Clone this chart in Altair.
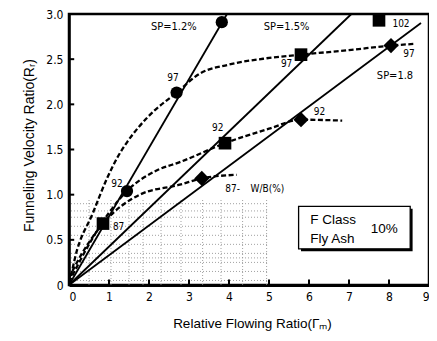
import altair as alt
import pandas as pd

# ---- Solid SP lines (from origin to end point) ----
sp_names = ["SP=1.2%", "SP=1.5%", "SP=1.8"]
sp_x_end = [3.95, 7.06, 8.8]
sp_y_end = [3.0, 3.0, 2.9]

# ---- Markers ----
circle_x = [1.45, 2.69, 3.82]
circle_y = [1.04, 2.13, 2.91]
square_x = [0.85, 3.9, 5.8, 7.75]
square_y = [0.68, 1.57, 2.55, 2.93]
diamond_x = [3.32, 5.8, 8.05]
diamond_y = [1.18, 1.83, 2.65]

# ---- Dashed W/B curves ----
w87_x = [0.0, 0.3, 0.85, 1.77, 2.77, 3.32, 4.19]
w87_y = [0.08, 0.33, 0.68, 1.0, 1.11, 1.18, 1.22]
w92_x = [0.0, 0.5, 1.0, 1.45, 2.2, 2.77, 3.9, 5.0, 5.8, 6.83]
w92_y = [0.03, 0.45, 0.8, 1.04, 1.27, 1.36, 1.57, 1.73, 1.83, 1.82]
w97_x = [0.05, 0.15, 0.6, 0.95, 1.22, 1.45, 1.97, 2.69, 3.27, 4.0, 4.94, 5.8, 7.0, 8.05, 8.65]
w97_y = [0.1, 0.3, 0.8, 1.18, 1.42, 1.58, 1.86, 2.13, 2.34, 2.44, 2.51, 2.55, 2.6, 2.65, 2.67]

# ---- Annotations ----
ann_text = ["SP=1.2%", "SP=1.5%", "SP=1.8", "102", "97", "97", "97", "92", "92", "92", "87", "87-", "W/B(%)"]
ann_x = [2.62, 5.44, 8.15, 8.3, 8.5, 5.44, 2.6, 6.26, 3.72, 1.2, 1.24, 4.09, 4.96]
ann_y = [2.86, 2.86, 2.31, 2.89, 2.56, 2.45, 2.29, 1.91, 1.74, 1.12, 0.64, 1.06, 1.06]
ann_size = [11, 11, 11, 10, 10, 10, 10, 10, 10, 10, 10, 10, 10]

# ---- Inset box ----
box_x = [5.74, 8.53]
box_y = [0.40, 0.87]
box_text_left = ["F Class", "Fly Ash"]
box_tx_left = [6.03, 6.03]
box_ty_left = [0.72, 0.51]
box_text_right = ["10%"]
box_tx_right = [7.88]
box_ty_right = [0.62]

# ---- Axis ticks ----
x_ticks = [0, 1, 2, 3, 4, 5, 6, 7, 8, 9]
y_ticks = [0, 0.5, 1.0, 1.5, 2.0, 2.5, 3.0]

# ---- Scanned grid texture (lower-left) ----
tex_h_y = [0.05, 0.15, 0.25, 0.3, 0.35, 0.45, 0.55, 0.65, 0.75, 0.82, 0.9]
tex_v_x = [0.5, 1.05, 1.5, 1.85, 2.3, 2.8, 3.34, 3.8, 4.34, 4.94]

FONT = "Liberation Sans Narrow, DejaVu Sans Condensed, Liberation Sans, sans-serif"

xs = alt.Scale(domain=[0, 9], nice=False)
ys = alt.Scale(domain=[0, 3], nice=False)

X = lambda f: alt.X(f, type="quantitative", scale=xs,
                    axis=alt.Axis(values=x_ticks, format="d", title="Relative Flowing Ratio(Γₘ)",
                                  grid=False, ticks=False, domainWidth=3, domainColor="black",
                                  labelFont=FONT, labelFontSize=12, labelColor="black", labelPadding=6,
                                  titleFont="Liberation Sans, Arial, sans-serif", titleFontSize=13.5,
                                  titleFontWeight="normal", titleColor="black",
                                  titleX=183, titleY=38, titleAlign="center", titleBaseline="middle"))
Y = lambda f: alt.Y(f, type="quantitative", scale=ys,
                    axis=alt.Axis(values=y_ticks, title="Funneling Velocity Ratio(Rᵣ)",
                                  labelExpr="datum.value == 0 ? '0' : format(datum.value, '.1f')",
                                  grid=False, ticks=False, domainWidth=2.5, domainColor="black",
                                  labelFont=FONT, labelFontSize=12, labelColor="black", labelPadding=6,
                                  titleFont="Liberation Sans, Arial, sans-serif", titleFontSize=14,
                                  titleFontWeight="normal", titleColor="black",
                                  titleX=-40, titleY=131, titleAngle=-90, titleAlign="center",
                                  titleBaseline="middle"))

# texture
tex_h = alt.Chart(pd.DataFrame({"y": tex_h_y, "x0": [0.05] * len(tex_h_y), "x1": [5.0] * len(tex_h_y)})).mark_rule(
    color="#8a8a8a", strokeWidth=1, strokeDash=[1, 2], opacity=0.8
).encode(x=X("x0"), x2="x1", y=Y("y"))
tex_v = alt.Chart(pd.DataFrame({"x": tex_v_x, "y0": [0.0] * len(tex_v_x), "y1": [0.95] * len(tex_v_x)})).mark_rule(
    color="#8a8a8a", strokeWidth=1, strokeDash=[1, 2], opacity=0.8
).encode(x=X("x"), y=Y("y0"), y2="y1")

# inward ticks
xt = alt.Chart(pd.DataFrame({"x": x_ticks[1:-1], "y0": [0.0] * 8, "y1": [0.06] * 8})).mark_rule(
    color="black", strokeWidth=2
).encode(x=X("x"), y=Y("y0"), y2="y1")
yt = alt.Chart(pd.DataFrame({"y": y_ticks[1:-1], "x0": [0.0] * 5, "x1": [0.13] * 5})).mark_rule(
    color="black", strokeWidth=2
).encode(y=Y("y"), x=X("x0"), x2="x1")

# solid SP lines
sp_df = pd.DataFrame({
    "sp": sp_names * 2,
    "x": [0.0] * 3 + sp_x_end,
    "y": [0.0] * 3 + sp_y_end,
})
sp_lines = alt.Chart(sp_df).mark_line(color="black", strokeWidth=1.8).encode(
    x=X("x"), y=Y("y"), detail="sp:N"
)

# dashed curves
wb_df = pd.concat([
    pd.DataFrame({"wb": "87", "x": w87_x, "y": w87_y}),
    pd.DataFrame({"wb": "92", "x": w92_x, "y": w92_y}),
    pd.DataFrame({"wb": "97", "x": w97_x, "y": w97_y}),
])
wb_lines = alt.Chart(wb_df).mark_line(
    color="black", strokeWidth=2.3, strokeDash=[5, 2.5], interpolate="monotone"
).encode(x=X("x"), y=Y("y"), detail="wb:N", order="x:Q")

circles = alt.Chart(pd.DataFrame({"x": circle_x, "y": circle_y})).mark_point(
    shape="circle", filled=True, color="black", size=150, opacity=1
).encode(x=X("x"), y=Y("y"))
squares = alt.Chart(pd.DataFrame({"x": square_x, "y": square_y})).mark_point(
    shape="square", filled=True, color="black", size=160, opacity=1
).encode(x=X("x"), y=Y("y"))
diamonds = alt.Chart(pd.DataFrame({"x": diamond_x, "y": diamond_y})).mark_point(
    shape="diamond", filled=True, color="black", size=230, opacity=1
).encode(x=X("x"), y=Y("y"))

ann = alt.Chart(pd.DataFrame({"t": ann_text, "x": ann_x, "y": ann_y, "s": ann_size})).mark_text(
    font=FONT, color="black", align="center", baseline="middle"
).encode(x=X("x"), y=Y("y"), text="t:N", size=alt.Size("s:Q", scale=None, legend=None))

# inset box with shadow
shadow = alt.Chart(pd.DataFrame({"x0": [box_x[0] + 0.06], "x1": [box_x[1] + 0.06],
                                 "y0": [box_y[0] - 0.025], "y1": [box_y[1] - 0.025]})).mark_rect(
    color="black"
).encode(x=X("x0"), x2="x1", y=Y("y0"), y2="y1")
box = alt.Chart(pd.DataFrame({"x0": [box_x[0]], "x1": [box_x[1]],
                              "y0": [box_y[0]], "y1": [box_y[1]]})).mark_rect(
    fill="white", stroke="black", strokeWidth=1.3
).encode(x=X("x0"), x2="x1", y=Y("y0"), y2="y1")
box_lbl_l = alt.Chart(pd.DataFrame({"t": box_text_left, "x": box_tx_left, "y": box_ty_left})).mark_text(
    font="Liberation Sans, Arial, sans-serif", fontSize=13.5, color="black", baseline="middle", align="left"
).encode(x=X("x"), y=Y("y"), text="t:N")
box_lbl_r = alt.Chart(pd.DataFrame({"t": box_text_right, "x": box_tx_right, "y": box_ty_right})).mark_text(
    font="Liberation Sans, Arial, sans-serif", fontSize=13.5, color="black", baseline="middle", align="center"
).encode(x=X("x"), y=Y("y"), text="t:N")

chart = alt.layer(
    tex_h, tex_v, xt, yt, sp_lines, wb_lines, circles, squares, diamonds, ann,
    shadow, box, box_lbl_l, box_lbl_r
).properties(
    width=360, height=271,
    autosize=alt.AutoSizeParams(type="none"),
    padding={"left": 61, "top": 6, "right": 0, "bottom": 46},
    background="white",
).configure_view(stroke="black", strokeWidth=2.5)

chart.save("out.html", embed_options={"renderer": "svg", "actions": False})
